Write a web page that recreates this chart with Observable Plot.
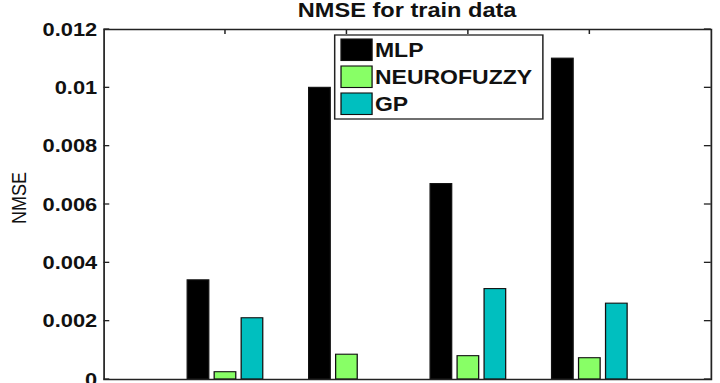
<!DOCTYPE html>
<html>
<head>
<meta charset="utf-8">
<script src="https://cdn.jsdelivr.net/npm/d3@7"></script>
<script src="https://cdn.jsdelivr.net/npm/@observablehq/plot@0.6"></script>
<style>
  html, body { margin: 0; padding: 0; background: #fff; }
  #chart svg { display: block; }
</style>
</head>
<body>
<div id="chart"></div>
<script>
// ---- data ----
const groups = [1, 2, 3, 4];
const seriesNames = ["MLP", "NEUROFUZZY", "GP"];
const seriesColors = ["#000000", "#88ff66", "#00bfbf"];
const mlp = [0.0034, 0.0100, 0.0067, 0.0110];
const neurofuzzy = [0.00025, 0.00085, 0.0008, 0.00073];
const gp = [0.0021, 0, 0.0031, 0.0026];
const yTicks = [0, 0.002, 0.004, 0.006, 0.008, 0.01, 0.012];
const yTickLabels = ["0", "0.002", "0.004", "0.006", "0.008", "0.01", "0.012"];
const titleText = "NMSE for train data";
const yLabelText = "NMSE";

// ---- layout ----
const W = 626, H = 383, OUTW = 720;
const ML = 90, MR = 8, MT = 29, MB = 4;
const font = "'Liberation Sans', Arial, Helvetica, sans-serif";
const nSeries = seriesNames.length;
const groupWidth = Math.min(0.8, nSeries / (nSeries + 1.5));
const step = groupWidth / nSeries;
const barW = step * 0.8;

const values = [mlp, neurofuzzy, gp];
const rows = [];
seriesNames.forEach((s, si) => {
  groups.forEach((g, gi) => {
    rows.push({series: s, group: g, value: values[si][gi], off: (si - (nSeries - 1) / 2) * step});
  });
});

const svg = Plot.plot({
  width: W,
  height: H,
  marginLeft: ML,
  marginRight: MR,
  marginTop: MT,
  marginBottom: MB,
  style: {fontFamily: font, fontSize: "19px", fontWeight: "bold", color: "#111", background: "#fff", overflow: "hidden"},
  x: {domain: [0, 5], axis: null},
  y: {domain: [0, 0.012]},
  color: {domain: seriesNames, range: seriesColors},
  marks: [
    Plot.axisY({anchor: "left", ticks: yTicks, tickSize: 0, tickPadding: 6,
      tickFormat: d => yTickLabels[yTicks.indexOf(d)], label: null, fontSize: 19, fontWeight: "bold"}),
    Plot.rectY(rows, {
      filter: d => d.value > 0,
      x1: d => d.group + d.off - barW / 2,
      x2: d => d.group + d.off + barW / 2,
      y: "value",
      fill: "series",
      stroke: "#111",
      strokeWidth: 1.1
    }),
    Plot.frame({stroke: "#222", strokeWidth: 1.5})
  ]
});

const sel = d3.select(svg);
const xs = svg.scale("x"), ys = svg.scale("y");

// inward tick marks on the box, placed through Plot's scales
const tg = sel.append("g").attr("stroke", "#222").attr("stroke-width", 1.3);
yTicks.forEach(v => {
  const y = ys.apply(v);
  tg.append("line").attr("x1", ML).attr("x2", ML + 5).attr("y1", y).attr("y2", y);
  tg.append("line").attr("x1", W - MR).attr("x2", W - MR - 6).attr("y1", y).attr("y2", y);
});
groups.forEach(g => {
  const x = xs.apply(g);
  tg.append("line").attr("x1", x).attr("x2", x).attr("y1", MT).attr("y2", MT + 5);
});

// title
sel.append("text")
  .attr("x", (ML + (W - MR)) / 2)
  .attr("y", 17)
  .attr("text-anchor", "middle")
  .attr("font-family", font)
  .attr("font-weight", "bold")
  .attr("font-size", 20.5)
  .attr("fill", "#111")
  .text(titleText);

// y label
sel.append("text")
  .attr("transform", "translate(23,198) rotate(-90)")
  .attr("text-anchor", "middle")
  .attr("font-family", font)
  .attr("font-weight", "normal")
  .attr("font-size", 18)
  .attr("fill", "#111")
  .text(yLabelText);

// legend
const lg = sel.append("g")
  .attr("font-family", font).attr("font-weight", "bold").attr("font-size", 20)
  .attr("text-anchor", "start");
lg.append("rect").attr("x", 291).attr("y", 35).attr("width", 181).attr("height", 84)
  .attr("fill", "#fff").attr("stroke", "#222").attr("stroke-width", 1.3);
seriesNames.forEach((s, i) => {
  const y0 = 39 + i * 27;
  lg.append("rect").attr("x", 296.5).attr("y", y0).attr("width", 27).attr("height", 21.5)
    .attr("fill", seriesColors[i]).attr("stroke", "#111").attr("stroke-width", 1.1);
  lg.append("text").attr("x", 326).attr("y", y0 + 18.5).attr("text-anchor", "start")
    .attr("fill", "#111").text(s);
});

// horizontal stretch of the whole figure (original figure is stretched)
svg.setAttribute("viewBox", `0 0 ${W} ${H}`);
svg.setAttribute("width", OUTW);
svg.setAttribute("height", H);
svg.setAttribute("preserveAspectRatio", "none");
svg.style.maxWidth = "none";
svg.style.width = OUTW + "px";
svg.style.height = H + "px";

document.getElementById("chart").appendChild(svg);
</script>
</body>
</html>
